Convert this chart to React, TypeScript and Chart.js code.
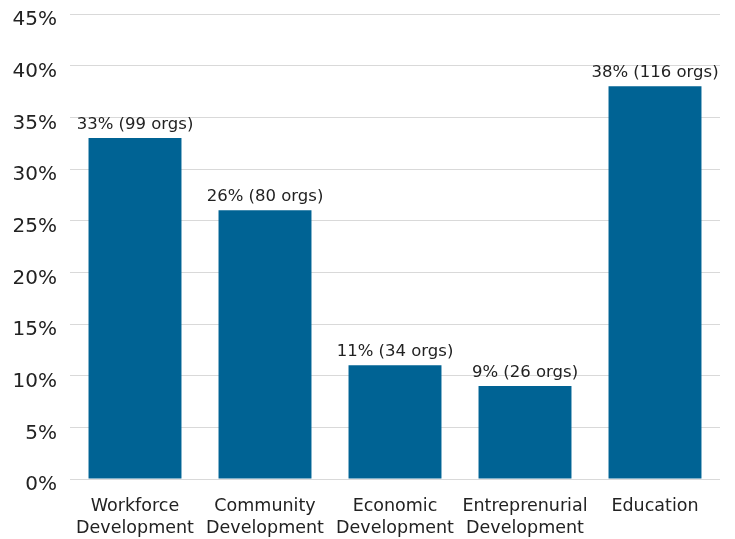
import React, { useEffect, useRef } from "react";
import { Chart, registerables } from "chart.js";

Chart.register(...registerables);

const categories: string[][] = [
  ["Workforce", "Development"],
  ["Community", "Development"],
  ["Economic", "Development"],
  ["Entreprenurial", "Development"],
  ["Education"],
];
const percents: number[] = [33, 26, 11, 9, 38];
const orgCounts: number[] = [99, 80, 34, 26, 116];
const yTicks: number[] = [0, 5, 10, 15, 20, 25, 30, 35, 40, 45];

const FONT = "'DejaVu Sans', sans-serif";

const labelPlugin = {
  id: "barLabels",
  afterDatasetsDraw(chart: any) {
    const { ctx } = chart;
    const meta = chart.getDatasetMeta(0);
    ctx.save();
    ctx.font = `16.5px ${FONT}`;
    ctx.fillStyle = "#222222";
    ctx.textAlign = "center";
    ctx.textBaseline = "alphabetic";
    meta.data.forEach((bar: any, i: number) => {
      ctx.fillText(`${percents[i]}% (${orgCounts[i]} orgs)`, bar.x, bar.y - 9);
    });
    ctx.restore();
  },
};

export default function App() {
  const ref = useRef<HTMLCanvasElement | null>(null);
  useEffect(() => {
    document.body.style.margin = "0";
    if (!ref.current) return;
    const chart = new Chart(ref.current, {
      type: "bar",
      data: {
        labels: categories,
        datasets: [
          {
            data: percents,
            backgroundColor: "#006394",
            barPercentage: 0.715,
            categoryPercentage: 1,
          },
        ],
      },
      options: {
        animation: false,
        responsive: false,
        maintainAspectRatio: false,
        layout: { padding: { top: 14, right: 15, bottom: 0, left: 0 } },
        plugins: {
          legend: { display: false },
          tooltip: { enabled: false },
        },
        scales: {
          x: {
            grid: { display: false, drawTicks: false },
            border: { display: false },
            afterFit: (scale: any) => {
              scale.height = 60;
            },
            ticks: {
              color: "#222222",
              font: { family: FONT, size: 17.5, lineHeight: 1.25 },
              maxRotation: 0,
              autoSkip: false,
              padding: 17,
            },
          },
          y: {
            min: 0,
            max: 45,
            afterBuildTicks: (axis: any) => {
              axis.ticks = yTicks.map((v) => ({ value: v }));
            },
            afterFit: (scale: any) => {
              scale.width = 70;
              scale.paddingTop = 0;
              scale.paddingBottom = 0;
            },
            grid: { color: "#d9d9d9", lineWidth: 1, drawTicks: false },
            border: { display: false },
            ticks: {
              color: "#222222",
              font: { family: FONT, size: 20 },
              padding: 13,
              labelOffset: 6,
              callback: (v: any) => `${v}%`,
            },
          },
        },
      },
      plugins: [labelPlugin],
    });
    return () => chart.destroy();
  }, []);
  return <canvas ref={ref} width={735} height={539} style={{ display: "block" }} />;
}
